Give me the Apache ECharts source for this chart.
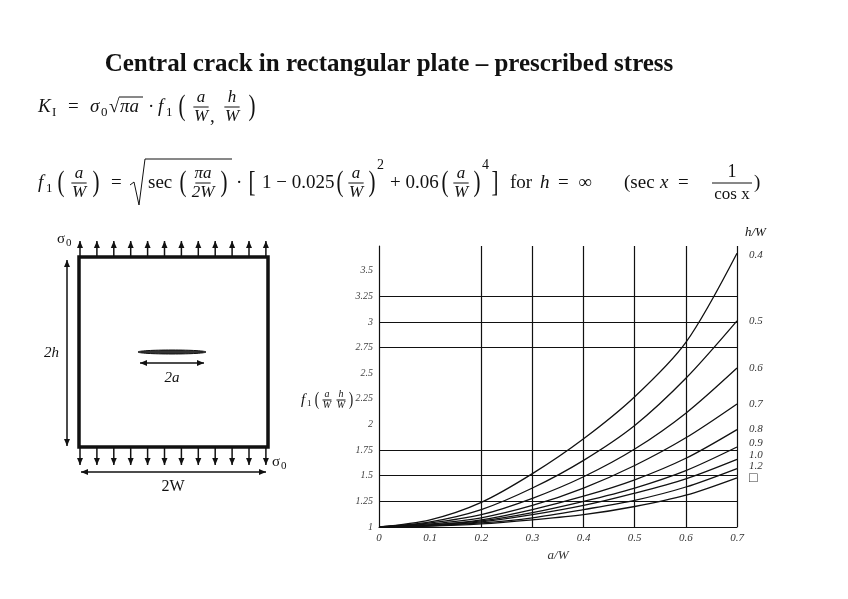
<!DOCTYPE html>
<html>
<head>
<meta charset="utf-8">
<script src="https://cdn.jsdelivr.net/npm/echarts@6/dist/echarts.min.js"></script>
<style>html,body{margin:0;padding:0;background:#fff}#main{width:848px;height:599px}</style>
</head>
<body>
<div id="main"></div>
<script>
// a/W positions where the curves are read
var aW = [0, 0.1, 0.2, 0.3, 0.4, 0.5, 0.6, 0.7];
// curve labels (h/W)
var hW = ["0.4", "0.5", "0.6", "0.7", "0.8", "0.9", "1.0", "1.2", "□"];
// f1 values for each h/W curve
var f04 = [1, 1.07, 1.24, 1.52, 1.86, 2.27, 2.8, 3.67];
var f05 = [1, 1.05, 1.17, 1.38, 1.65, 1.99, 2.45, 3.01];
var f06 = [1, 1.04, 1.12, 1.28, 1.49, 1.76, 2.11, 2.55];
var f07 = [1, 1.03, 1.09, 1.21, 1.38, 1.6, 1.87, 2.2];
var f08 = [1, 1.02, 1.07, 1.17, 1.3, 1.46, 1.67, 1.95];
var f09 = [1, 1.02, 1.06, 1.14, 1.25, 1.38, 1.55, 1.78];
var f10 = [1, 1.015, 1.05, 1.12, 1.21, 1.33, 1.47, 1.66];
var f12 = [1, 1.012, 1.04, 1.09, 1.17, 1.26, 1.39, 1.57];
var fInf = [1, 1.008, 1.03, 1.07, 1.12, 1.2, 1.31, 1.48];
var curves = [f04, f05, f06, f07, f08, f09, f10, f12, fInf];
var labelShift = [2, 0, 0, 0, 0, -4, -4, -2, 1];

// grid lines drawn in the original
var hLines = [1.25, 1.5, 1.75, 2.75, 3, 3.25];
var vLines = [0.2, 0.3, 0.4, 0.5, 0.6, 0.7];

var chart = echarts.init(document.getElementById("main"));
var serif = "Liberation Serif";

function txt(x, y, s, size, extra) {
  return Object.assign({
    type: "text", x: x, y: y,
    style: { text: s, font: (extra && extra.font) || ("italic " + size + "px " + serif), fill: "#111", align: "left", verticalAlign: "middle" }
  }, extra && extra.el);
}
function frac(x, y, num, den, size) {
  return [
    { type: "text", x: x, y: y - size * 0.55, style: { text: num, font: "italic " + size + "px " + serif, fill: "#111", align: "center", verticalAlign: "middle" } },
    { type: "line", shape: { x1: x - size * 0.45, y1: y, x2: x + size * 0.45, y2: y }, style: { stroke: "#111", lineWidth: 1 } },
    { type: "text", x: x, y: y + size * 0.55, style: { text: den, font: "italic " + size + "px " + serif, fill: "#111", align: "center", verticalAlign: "middle" } }
  ];
}
function paren(x, y, s, size) {
  return { type: "text", x: x, y: y, scaleX: 0.7, style: { text: s, font: Math.round(size * 1.6) + "px " + serif, fill: "#111", align: "center", verticalAlign: "middle" } };
}
function arrow(x1, y1, x2, y2, both) {
  var els = [{ type: "line", shape: { x1: x1, y1: y1, x2: x2, y2: y2 }, style: { stroke: "#111", lineWidth: 1.5 } }];
  function head(xa, ya, xb, yb) {
    var ang = Math.atan2(yb - ya, xb - xa), L = 7, w = 3;
    var px = -Math.sin(ang), py = Math.cos(ang);
    return { type: "polygon", shape: { points: [[xb, yb], [xb - L * Math.cos(ang) + w * px, yb - L * Math.sin(ang) + w * py], [xb - L * Math.cos(ang) - w * px, yb - L * Math.sin(ang) - w * py]] }, style: { fill: "#111" } };
  }
  els.push(head(x1, y1, x2, y2));
  if (both) els.push(head(x2, y2, x1, y1));
  return els;
}

var g = [];
// title
g.push({ type: "text", x: 389, y: 65, style: { text: "Central crack in rectangular plate – prescribed stress", font: "bold 25px " + serif, fill: "#111", align: "center", verticalAlign: "middle" } });
// formula 1
var y1 = 107, fs = 19;
g.push(txt(38, y1, "K", fs));
g.push(txt(52, y1 + 6, "I", 13, { font: "13px " + serif }));
g.push(txt(68, y1, "=", fs, { font: fs + "px " + serif }));
g.push(txt(90, y1, "σ", fs));
g.push(txt(101, y1 + 6, "0", 13, { font: "13px " + serif }));
g.push(txt(109, y1, "√", fs, { font: fs + "px " + serif }));
g.push({ type: "line", shape: { x1: 119, y1: y1 - 10, x2: 143, y2: y1 - 10 }, style: { stroke: "#111", lineWidth: 1 } });
g.push(txt(120, y1, "πa", fs));
g.push(txt(148, y1, "·", fs, { font: fs + "px " + serif }));
g.push(txt(158, y1, "f", fs));
g.push(txt(166, y1 + 6, "1", 13, { font: "13px " + serif }));
g.push(paren(182, y1, "(", fs));
g = g.concat(frac(201, y1, "a", "W", 17));
g.push(txt(210, y1 + 10, ",", fs, { font: fs + "px " + serif }));
g = g.concat(frac(232, y1, "h", "W", 17));
g.push(paren(252, y1, ")", fs));

// formula 2
var y2 = 183;
g.push(txt(38, y2, "f", fs));
g.push(txt(46, y2 + 6, "1", 13, { font: "13px " + serif }));
g.push(paren(61, y2, "(", fs));
g = g.concat(frac(79, y2, "a", "W", 17));
g.push(paren(96, y2, ")", fs));
g.push(txt(111, y2, "=", fs, { font: fs + "px " + serif }));
g.push({ type: "polyline", shape: { points: [[130, y2 + 2], [134, y2 - 1], [139, y2 + 22], [145, y2 - 24], [232, y2 - 24]] }, style: { stroke: "#111", lineWidth: 1, fill: null } });
g.push(txt(148, y2, "sec", fs, { font: fs + "px " + serif }));
g.push(paren(183, y2, "(", fs));
g = g.concat(frac(203, y2, "πa", "2W", 17));
g.push(paren(224, y2, ")", fs));
g.push(txt(236, y2, "·", fs, { font: fs + "px " + serif }));
g.push(paren(252, y2, "[", fs));
g.push(txt(262, y2, "1 − 0.025", fs, { font: fs + "px " + serif }));
g.push(paren(340, y2, "(", fs));
g = g.concat(frac(356, y2, "a", "W", 17));
g.push(paren(372, y2, ")", fs));
g.push(txt(377, y2 - 18, "2", 14, { font: "14px " + serif }));
g.push(txt(390, y2, "+ 0.06", fs, { font: fs + "px " + serif }));
g.push(paren(445, y2, "(", fs));
g = g.concat(frac(461, y2, "a", "W", 17));
g.push(paren(477, y2, ")", fs));
g.push(txt(482, y2 - 18, "4", 14, { font: "14px " + serif }));
g.push(paren(495, y2, "]", fs));
g.push(txt(510, y2, "for", fs, { font: fs + "px " + serif }));
g.push(txt(540, y2, "h", fs));
g.push(txt(558, y2, "=  ∞", fs, { font: fs + "px " + serif }));
g.push(txt(624, y2, "(sec", fs, { font: fs + "px " + serif }));
g.push(txt(660, y2, "x", fs));
g.push(txt(678, y2, "=", fs, { font: fs + "px " + serif }));
g.push({ type: "text", x: 732, y: y2 - 11, style: { text: "1", font: "18px " + serif, fill: "#111", align: "center", verticalAlign: "middle" } });
g.push({ type: "line", shape: { x1: 712, y1: y2, x2: 752, y2: y2 }, style: { stroke: "#111", lineWidth: 1 } });
g.push({ type: "text", x: 732, y: y2 + 12, style: { text: "cos x", font: "17px " + serif, fill: "#111", align: "center", verticalAlign: "middle" } });
g.push(txt(754, y2, ")", fs, { font: fs + "px " + serif }));

// plate diagram
g.push({ type: "rect", shape: { x: 79, y: 257, width: 189, height: 190 }, style: { stroke: "#111", lineWidth: 3.5, fill: null } });
for (var i = 0; i < 12; i++) {
  var ax = 80 + i * 16.9;
  g = g.concat(arrow(ax, 257, ax, 241, false));
  g = g.concat(arrow(ax, 447, ax, 465, false));
}
g.push(txt(57, 239, "σ", 14, { font: "15px " + serif }));
g.push(txt(66, 243, "0", 10, { font: "11px " + serif }));
g.push(txt(272, 462, "σ", 14, { font: "15px " + serif }));
g.push(txt(281, 466, "0", 10, { font: "11px " + serif }));
g = g.concat(arrow(67, 260, 67, 446, true));
g.push(txt(44, 353, "2h", 15));
g = g.concat(arrow(81, 472, 266, 472, true));
g.push({ type: "text", x: 173, y: 487, style: { text: "2W", font: "16px " + serif, fill: "#111", align: "center", verticalAlign: "middle" } });
g.push({ type: "ellipse", shape: { cx: 172, cy: 352, rx: 34, ry: 2 }, style: { fill: "#333", stroke: "#111" } });
g = g.concat(arrow(140, 363, 204, 363, true));
g.push({ type: "text", x: 172, y: 378, style: { text: "2a", font: "italic 15px " + serif, fill: "#111", align: "center", verticalAlign: "middle" } });

// y-axis name f1(a/W, h/W)
g.push(txt(301, 400, "f", 15));
g.push(txt(307, 404, "1", 9, { font: "9px " + serif }));
g.push(paren(317, 400, "(", 12));
g = g.concat(frac(327, 400, "a", "W", 10));
g = g.concat(frac(341, 400, "h", "W", 10));
g.push(paren(351, 400, ")", 12));
g.push({ type: "text", x: 745, y: 233, style: { text: "h/W", font: "italic 13px " + serif, fill: "#111", align: "left", verticalAlign: "middle" } });

var series = curves.map(function (c, k) {
  return {
    type: "line", smooth: 0.3, symbol: "none",
    data: aW.map(function (x, j) { return [x, c[j]]; }),
    lineStyle: { color: "#111", width: 1.3 },
    endLabel: { show: true, formatter: hW[k], offset: [4, labelShift[k]], fontFamily: serif, fontStyle: k === 8 ? "normal" : "italic", fontSize: k === 8 ? 14 : 11, color: "#333" }
  };
});
series.push({
  type: "line", data: [], symbol: "none",
  markLine: {
    silent: true, symbol: "none", label: { show: false },
    lineStyle: { color: "#111", width: 1.2, type: "solid" },
    data: hLines.map(function (v) { return { yAxis: v }; }).concat(vLines.map(function (v) { return { xAxis: v }; }))
  }
});

chart.setOption({
  animation: false,
  grid: { left: 379, right: 111, top: 246, bottom: 72 },
  xAxis: {
    type: "value", min: 0, max: 0.7, interval: 0.1,
    name: "a/W", nameLocation: "middle", nameGap: 22,
    nameTextStyle: { fontFamily: serif, fontStyle: "italic", fontSize: 13, color: "#333" },
    axisLine: { lineStyle: { color: "#111", width: 1.2 } },
    axisTick: { show: false }, splitLine: { show: false },
    axisLabel: { fontFamily: serif, fontStyle: "italic", fontSize: 11, color: "#333", margin: 6 }
  },
  yAxis: {
    type: "value", min: 1, max: 3.74, interval: 0.25,
    axisLine: { show: true, lineStyle: { color: "#111", width: 1.2 } },
    axisTick: { show: false }, splitLine: { show: false },
    axisLabel: { fontFamily: serif, fontStyle: "italic", fontSize: 10, color: "#444", margin: 6, showMaxLabel: false }
  },
  series: series,
  graphic: g
});
</script>
</body>
</html>
